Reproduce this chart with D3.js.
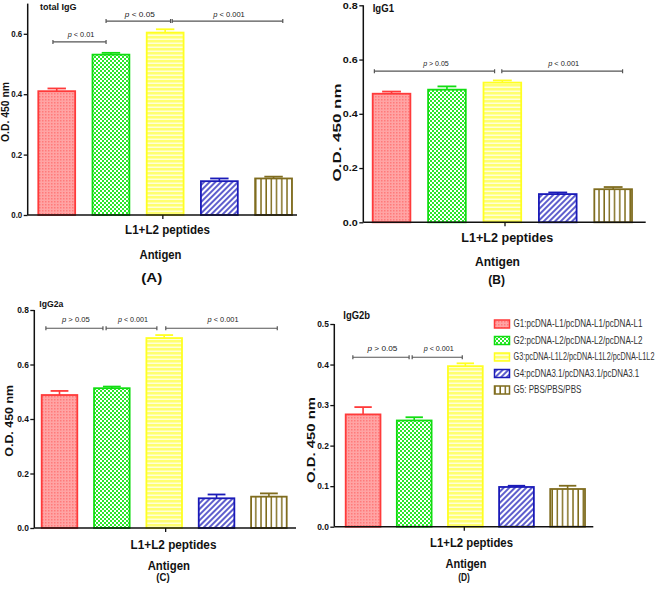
<!DOCTYPE html>
<html><head><meta charset="utf-8">
<script src="https://cdn.jsdelivr.net/npm/d3@7"></script>
<style>
html,body{margin:0;padding:0;background:#fff;}
svg{display:block;font-family:Arial,"Liberation Sans",sans-serif;}
</style></head>
<body>
<svg id="chart" width="658" height="589"></svg>
<script>
// ---------------- DATA ----------------
const groups = [
  "G1:pcDNA-L1/pcDNA-L1/pcDNA-L1",
  "G2:pcDNA-L2/pcDNA-L2/pcDNA-L2",
  "G3:pcDNA-L1L2/pcDNA-L1L2/pcDNA-L1L2",
  "G4:pcDNA3.1/pcDNA3.1/pcDNA3.1",
  "G5: PBS/PBS/PBS"
];
const antigen = "L1+L2 peptides";
const panelTitles = ["total IgG", "IgG1", "IgG2a", "IgG2b"];
const panelLetters = ["(A)", "(B)", "(C)", "(D)"];

const totalIgG = [0.410, 0.531, 0.604, 0.112, 0.121];
const totalIgGErr = [0.009, 0.006, 0.011, 0.009, 0.006];
const igG1 = [0.474, 0.489, 0.515, 0.104, 0.122];
const igG1Err = [0.008, 0.012, 0.008, 0.006, 0.008];
const igG2a = [0.488, 0.513, 0.697, 0.109, 0.115];
const igG2aErr = [0.015, 0.006, 0.011, 0.014, 0.012];
const igG2b = [0.277, 0.262, 0.396, 0.098, 0.093];
const igG2bErr = [0.018, 0.008, 0.007, 0.003, 0.008];

const yTicksA = [0, 0.2, 0.4, 0.6];
const yTicksB = [0, 0.2, 0.4, 0.6, 0.8];
const yTicksC = [0, 0.2, 0.4, 0.6, 0.8];
const yTicksD = [0, 0.1, 0.2, 0.3, 0.4, 0.5];
const yMax = [0.7, 0.8, 0.8, 0.5];

// significance brackets: from/to in bar-index units, level in O.D.
const sigA = [
  {from: -0.07, to: 0.91, level: 0.573, op: "<", p: "0.01"},
  {from: 0.91, to: 2.10, level: 0.642, op: "<", p: "0.05"},
  {from: 2.13, to: 4.17, level: 0.642, op: "<", p: "0.001"}
];
const sigB = [
  {from: -0.31, to: 1.86, level: 0.557, op: ">", p: "0.05"},
  {from: 1.99, to: 4.17, level: 0.557, op: "<", p: "0.001"}
];
const sigC = [
  {from: -0.26, to: 0.83, level: 0.733, op: ">", p: "0.05"},
  {from: 0.89, to: 1.86, level: 0.733, op: "<", p: "0.001"},
  {from: 2.03, to: 4.16, level: 0.733, op: "<", p: "0.001"}
];
const sigD = [
  {from: -0.20, to: 0.90, level: 0.418, op: ">", p: "0.05"},
  {from: 0.96, to: 1.94, level: 0.418, op: "<", p: "0.001"}
];

// ---------------- STYLE ----------------
const strokeCol = ["#ff3a3a", "#11dd11", "#ffff22", "#1a1ab8", "#7f6c1e"];
const patIds = ["patRed", "patGreen", "patYellow", "patBlue", "patOlive"];

const svg = d3.select("#chart");
const defs = svg.append("defs");
function pat(id, w, h, build, transform) {
  const p = defs.append("pattern").attr("id", id).attr("patternUnits", "userSpaceOnUse")
    .attr("width", w).attr("height", h);
  if (transform) p.attr("patternTransform", transform);
  build(p);
}
pat("patRed", 3, 3, p => {
  p.append("rect").attr("width", 3).attr("height", 3).attr("fill", "#ffa4a4");
  p.append("rect").attr("width", 1.5).attr("height", 1.5).attr("fill", "#ff7a7a");
});
pat("patGreen", 4, 4, p => {
  p.append("rect").attr("width", 4).attr("height", 4).attr("fill", "#2ae82a");
  p.append("rect").attr("width", 2).attr("height", 2).attr("fill", "#ffffff");
  p.append("rect").attr("x", 2).attr("y", 2).attr("width", 2).attr("height", 2).attr("fill", "#ffffff");
});
pat("patYellow", 4, 4, p => {
  p.append("rect").attr("width", 4).attr("height", 4).attr("fill", "#ffff70");
  p.append("rect").attr("y", 2.5).attr("width", 4).attr("height", 1.5).attr("fill", "#ffffd8");
});
pat("patBlue", 4, 4, p => {
  p.append("rect").attr("width", 4).attr("height", 4).attr("fill", "#ffffff");
  p.append("line").attr("x1", 1).attr("x2", 1).attr("y1", 0).attr("y2", 4)
    .attr("stroke", "#1a1ab8").attr("stroke-width", 1.4);
}, "rotate(45)");
pat("patOlive", 5.2, 4, p => {
  p.append("rect").attr("width", 5.2).attr("height", 4).attr("fill", "#ffffff");
  p.append("line").attr("x1", 1).attr("x2", 1).attr("y1", 0).attr("y2", 4)
    .attr("stroke", "#7f6c1e").attr("stroke-width", 1.5);
});

// horizontally scale a text to a target width about its anchor x
function fit(sel, w, prefix) {
  sel.each(function () {
    const x = +this.getAttribute("x") || 0;
    const L = this.getComputedTextLength();
    const s = L > 0 ? w / L : 1;
    this.setAttribute("transform",
      `${prefix || ""} translate(${x},0) scale(${s},1) translate(${-x},0)`);
  });
  return sel;
}

// ---------------- LAYOUT ----------------
const panels = [
  {vals: totalIgG, errs: totalIgGErr, ticks: yTicksA, sig: sigA,
   ax0: 27.7, ax1: 297, bx0: 38.3, bx1: 292, y0: 215, y1: 3.6, tickFs: 8.5, tickW: 11,
   title: {x: 40, y: 10.5, fs: 9.5, w: 36.7},
   ytitle: {x: 9, y: 112, fs: 10, w: 60},
   pFs: 7, pW: [26.7, 30, 31.7], pDy: -4.5,
   xlab: {x: 167, y: 234, fs: 12.5, w: 85},
   ant: {x: 160.5, y: 259, fs: 12.5, w: 42},
   let: {x: 151.7, y: 282, fs: 13, w: 21}},
  {vals: igG1, errs: igG1Err, ticks: yTicksB, sig: sigB,
   ax0: 363.3, ax1: 645.7, bx0: 372.7, bx1: 632, y0: 222.3, y1: 5.3, tickFs: 9, tickW: 15,
   title: {x: 372.7, y: 12, fs: 10, w: 21.3},
   ytitle: {x: 341, y: 132.5, fs: 11, w: 98},
   pFs: 7, pW: [25.7, 31], pDy: -5.5,
   xlab: {x: 506.7, y: 242, fs: 13, w: 92},
   ant: {x: 497.5, y: 266, fs: 13, w: 45},
   let: {x: 496.7, y: 284, fs: 13, w: 16.7}},
  {vals: igG2a, errs: igG2aErr, ticks: yTicksC, sig: sigC,
   ax0: 34.3, ax1: 296, bx0: 41.7, bx1: 286.7, y0: 528, y1: 310, tickFs: 8.5, tickW: 11.7,
   title: {x: 39.3, y: 307.5, fs: 9, w: 24},
   ytitle: {x: 13, y: 420.8, fs: 10.5, w: 72},
   pFs: 7, pW: [28, 30, 31], pDy: -6,
   xlab: {x: 173, y: 549, fs: 13, w: 86},
   ant: {x: 168.8, y: 570, fs: 12.5, w: 42.3},
   let: {x: 163, y: 581, fs: 10, w: 13.3}},
  {vals: igG2b, errs: igG2bErr, ticks: yTicksD, sig: sigD,
   ax0: 334.3, ax1: 593.3, bx0: 345.7, bx1: 585, y0: 526.7, y1: 324, tickFs: 8.5, tickW: 11.7,
   title: {x: 343.3, y: 319.5, fs: 10, w: 26.7},
   ytitle: {x: 315, y: 440, fs: 11, w: 86},
   pFs: 7, pW: [30, 30], pDy: -6.5,
   xlab: {x: 471, y: 547, fs: 13, w: 83},
   ant: {x: 466, y: 568, fs: 12.5, w: 41},
   let: {x: 464, y: 581, fs: 10.5, w: 11.7}}
];

function label(g, x, y, s, fs, w, anchor, weight, prefix) {
  const t = g.append("text").attr("x", x).attr("y", y).attr("text-anchor", anchor || "middle")
    .attr("font-size", fs).attr("font-weight", weight || "bold").attr("fill", "#111").text(s);
  fit(t, w, prefix);
  return t;
}

panels.forEach((P, pi) => {
  const g = svg.append("g");
  const y = d3.scaleLinear().domain([0, yMax[pi]]).range([P.y0, P.y1]);
  const xb = d3.scaleBand().domain(d3.range(groups.length)).range([P.bx0, P.bx1])
    .paddingInner(0.32).paddingOuter(0);
  const bw = xb.bandwidth();
  const xi = d3.scaleLinear().domain([0, groups.length - 1])
    .range([xb(0) + bw / 2, xb(groups.length - 1) + bw / 2]);
  const xa = d3.scalePoint().domain([antigen]).range([P.ax0, P.ax1]).padding(0.5);

  // bars
  const bars = g.selectAll("g.bar").data(P.vals).join("g").attr("class", "bar");
  bars.append("rect")
    .attr("x", (d, i) => xb(i)).attr("width", bw)
    .attr("y", d => y(d)).attr("height", d => y(0) - y(d))
    .attr("fill", (d, i) => `url(#${patIds[i]})`)
    .attr("stroke", (d, i) => strokeCol[i]).attr("stroke-width", 1.8);
  // error bars (upper only)
  bars.append("line")
    .attr("x1", (d, i) => xb(i) + bw / 2).attr("x2", (d, i) => xb(i) + bw / 2)
    .attr("y1", d => y(d)).attr("y2", (d, i) => y(d + P.errs[i]))
    .attr("stroke", (d, i) => strokeCol[i]).attr("stroke-width", 1.6);
  bars.append("line")
    .attr("x1", (d, i) => xb(i) + bw / 4).attr("x2", (d, i) => xb(i) + 3 * bw / 4)
    .attr("y1", (d, i) => y(d + P.errs[i])).attr("y2", (d, i) => y(d + P.errs[i]))
    .attr("stroke", (d, i) => strokeCol[i]).attr("stroke-width", 1.8);

  // y axis
  const yAx = g.append("g").attr("transform", `translate(${P.ax0},0)`)
    .call(d3.axisLeft(y).tickValues(P.ticks).tickFormat(d3.format(".1f"))
      .tickSize(4).tickSizeOuter(0).tickPadding(1.5));
  yAx.select(".domain").attr("stroke", "#111").attr("stroke-width", 1.5)
    .attr("d", `M0,${P.y0}V${P.y1}`);
  yAx.selectAll(".tick line").attr("stroke", "#111").attr("stroke-width", 1.3);
  const yt = yAx.selectAll(".tick text").attr("font-size", P.tickFs).attr("font-weight", "bold")
    .attr("fill", "#111").attr("font-family", "Arial, 'Liberation Sans', sans-serif");
  fit(yt, P.tickW);

  // x axis
  const xAx = g.append("g").attr("transform", `translate(0,${P.y0})`)
    .call(d3.axisBottom(xa).tickSize(4).tickSizeOuter(0));
  xAx.select(".domain").attr("stroke", "#111").attr("stroke-width", 1.5)
    .attr("d", `M${P.ax0},0H${P.ax1}`);
  xAx.selectAll(".tick line").attr("stroke", "#111").attr("stroke-width", 1.3);
  const xt = xAx.selectAll(".tick text")
    .attr("x", P.xlab.x - xa(antigen)).attr("y", P.xlab.y - P.y0).attr("dy", 0)
    .attr("font-size", P.xlab.fs).attr("font-weight", "bold").attr("fill", "#111")
    .attr("font-family", "Arial, 'Liberation Sans', sans-serif");
  fit(xt, P.xlab.w);

  // titles
  label(g, P.title.x, P.title.y, panelTitles[pi], P.title.fs, P.title.w, "start");
  label(g, 0, 0, "O.D. 450 nm", P.ytitle.fs, P.ytitle.w, "middle", "bold",
    `translate(${P.ytitle.x},${P.ytitle.y}) rotate(-90)`);
  label(g, P.ant.x, P.ant.y, "Antigen", P.ant.fs, P.ant.w);
  label(g, P.let.x, P.let.y, panelLetters[pi], P.let.fs, P.let.w);

  // significance brackets
  P.sig.forEach((s, si) => {
    const xa0 = xi(s.from), xa1 = xi(s.to), yy = y(s.level);
    g.append("path")
      .attr("d", `M${xa0},${yy - 2}V${yy + 2}M${xa0},${yy}H${xa1}M${xa1},${yy - 2}V${yy + 2}`)
      .attr("fill", "none").attr("stroke", "#555").attr("stroke-width", 1.2);
    const t = g.append("text").attr("x", (xa0 + xa1) / 2 + 1.5).attr("y", yy + P.pDy)
      .attr("text-anchor", "middle").attr("font-size", P.pFs).attr("fill", "#222");
    t.append("tspan").attr("font-style", "italic").text("p");
    t.append("tspan").text(` ${s.op} ${s.p}`);
    fit(t, P.pW[si]);
  });
});

// ---------------- LEGEND ----------------
const legendW = [129, 129, 141, 126, 68];
const leg = svg.append("g");
const ly = d3.scalePoint().domain(d3.range(groups.length)).range([324, 390]);
groups.forEach((name, i) => {
  leg.append("rect").attr("x", 494.5).attr("y", ly(i) - 4).attr("width", 15).attr("height", 8)
    .attr("fill", `url(#${patIds[i]})`).attr("stroke", strokeCol[i]).attr("stroke-width", 1.5);
  const t = leg.append("text").attr("x", 513.5).attr("y", ly(i) + 3.5).attr("font-size", 10)
    .attr("fill", "#333").text(name);
  fit(t, legendW[i]);
});
</script>
</body></html>
